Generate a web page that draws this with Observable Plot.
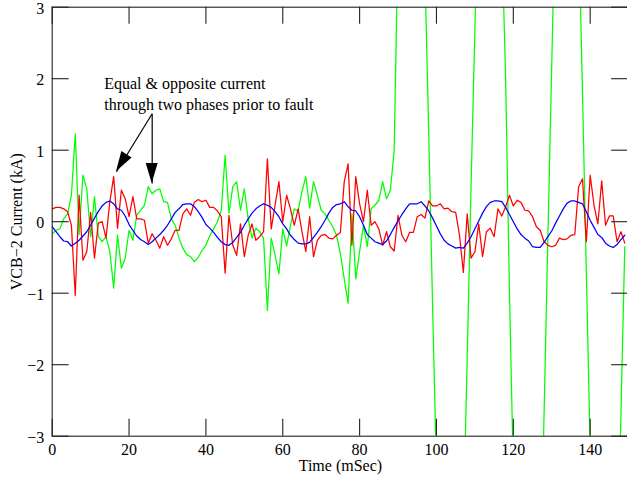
<!DOCTYPE html>
<html>
<head>
<meta charset="utf-8">
<script src="https://cdn.jsdelivr.net/npm/d3@7"></script>
<script src="https://cdn.jsdelivr.net/npm/@observablehq/plot@0.6"></script>
<style>
  html, body { margin: 0; padding: 0; background: #fff; overflow: hidden; }
  svg { display: block; }
  svg, svg text { font-family: "Liberation Serif", "Times New Roman", serif !important; }
</style>
</head>
<body>
<div id="chart"></div>
<script>
// sample times (ms), one sample per millisecond
const time = d3.range(0, 150);

// phase currents (kA)
const blue = [
  -0.07,-0.14,-0.21,-0.27,-0.28,-0.34,-0.30,-0.26,-0.20,-0.14,
  -0.05,0.05,0.14,0.22,0.27,0.29,0.25,0.18,0.16,0.08,
  -0.04,-0.12,-0.20,-0.25,-0.28,-0.32,-0.28,-0.23,-0.18,-0.12,
  -0.05,0.04,0.13,0.18,0.24,0.25,0.25,0.21,0.14,0.06,
  -0.04,-0.09,-0.15,-0.22,-0.28,-0.32,-0.33,-0.29,-0.22,-0.15,
  -0.05,0.04,0.12,0.18,0.22,0.25,0.23,0.20,0.14,0.07,
  -0.03,-0.10,-0.19,-0.25,-0.30,-0.31,-0.31,-0.29,-0.22,-0.15,
  -0.07,0.02,0.12,0.20,0.24,0.25,0.28,0.21,0.16,0.15,
  0.07,-0.05,-0.18,-0.23,-0.28,-0.30,-0.32,-0.27,-0.18,-0.08,
  0.01,0.10,0.18,0.25,0.25,0.25,0.28,0.22,0.15,0.05,
  -0.06,-0.17,-0.26,-0.31,-0.34,-0.37,-0.36,-0.37,-0.30,-0.21,
  -0.10,0.01,0.12,0.21,0.27,0.29,0.29,0.28,0.20,0.10,
  0.00,-0.10,-0.18,-0.23,-0.27,-0.35,-0.36,-0.36,-0.29,-0.21,
  -0.13,-0.02,0.08,0.18,0.26,0.29,0.29,0.27,0.25,0.14,
  0.02,-0.08,-0.18,-0.22,-0.30,-0.34,-0.36,-0.32,-0.25,-0.19
];
const red = [
  0.18,0.20,0.20,0.18,0.14,-0.05,-1.03,0.37,-0.54,-0.42,
  0.13,-0.51,-0.02,0.00,-0.23,0.28,0.63,-0.09,0.44,0.32,
  0.07,0.35,0.04,0.04,0.02,-0.30,-0.17,-0.26,-0.37,-0.21,
  -0.33,-0.24,-0.12,-0.12,0.11,0.18,0.09,0.27,0.31,0.28,
  0.30,0.20,0.20,0.15,0.07,-0.72,0.09,-0.33,-0.47,-0.03,
  -0.49,-0.19,-0.03,-0.26,-0.21,-0.14,0.88,-0.10,0.23,0.56,
  0.00,0.37,0.18,-0.05,0.18,-0.14,-0.42,0.07,-0.49,-0.26,
  -0.19,-0.18,-0.23,-0.24,-0.19,-0.15,0.56,0.81,-0.33,0.63,
  0.25,0.00,0.44,-0.05,0.00,-0.10,-0.33,-0.14,-0.35,-0.41,
  0.09,-0.19,-0.28,-0.15,-0.15,0.07,0.10,0.05,0.29,0.22,
  0.22,0.25,0.18,0.19,0.14,0.13,-0.19,-0.71,0.11,-0.51,
  -0.42,-0.03,-0.49,-0.14,-0.09,-0.21,0.18,0.08,0.21,0.37,
  0.22,0.30,0.27,0.16,0.15,0.07,-0.07,-0.12,-0.28,-0.33,
  -0.35,-0.33,-0.23,-0.25,-0.24,-0.19,-0.18,0.49,0.60,-0.28,
  0.65,0.23,-0.03,0.57,-0.05,0.08,0.08,-0.28,-0.14,-0.30
];
const green = [
  -0.17,-0.12,-0.10,0.04,0.11,0.37,1.23,-0.18,0.65,0.46,
  -0.21,0.35,-0.21,-0.28,-0.21,-0.42,-0.93,-0.19,-0.65,-0.51,
  -0.12,-0.26,0.09,0.16,0.23,0.49,0.39,0.44,0.46,0.28,
  0.27,0.04,-0.05,-0.23,-0.37,-0.46,-0.49,-0.56,-0.50,-0.40,
  -0.33,-0.20,-0.10,0.00,0.16,0.93,0.12,0.49,0.56,0.16,
  0.46,0.04,-0.23,-0.09,-0.14,-0.23,-1.24,-0.23,-0.47,-0.73,
  -0.10,-0.34,-0.05,0.18,0.15,0.42,0.63,0.19,0.56,0.37,
  0.16,0.11,0.02,-0.07,-0.19,-0.45,-0.80,-1.14,0.11,-0.80,
  -0.42,-0.05,-0.35,0.18,0.23,0.30,0.56,0.32,0.44,1.00,
  4.0,6.5,7.8,8.2,7.9,6.9,5.3,3.5,1.2,-1.2,
  -3.5,-5.4,-6.9,-7.8,-8.0,-7.6,-6.6,-4.2,-1.9,0.5,
  2.7,4.8,6.5,7.6,8.0,7.7,6.6,4.0,2.0,-1.0,
  -3.5,-5.6,-7.1,-7.9,-8.1,-7.7,-6.6,-5.0,-2.7,-0.2,
  2.2,4.6,6.5,7.8,8.3,8.0,6.9,4.2,1.8,-0.7,
  -3.2,-5.5,-7.2,-8.1,-8.4,-8.0,-6.8,-5.0,-2.7,-0.35
];

const xTicks = [0, 20, 40, 60, 80, 100, 120, 140];
const yTicks = [-3, -2, -1, 0, 1, 2, 3];
const xLabel = "Time (mSec)";
const yLabel = "VCB\u22122 Current (kA)";

// annotation (data coordinates)
const noteLines = ["Equal & opposite current", "through two phases prior to fault"];
const noteX = [13.53, 13.53];
const noteY = [1.924, 1.627];
const arrowFromX = [26.02, 26.02];
const arrowFromY = [1.509, 1.509];
const arrowToX = [16.73, 26.02];
const arrowToY = [0.698, 0.534];

const toRows = vals => time.map((t, i) => ({t, v: vals[i]}));
const notes = noteLines.map((s, i) => ({s, x: noteX[i], y: noteY[i]}));
const arrows = arrowToX.map((x2, i) => ({x1: arrowFromX[i], y1: arrowFromY[i], x2, y2: arrowToY[i]}));

const W = 627, H = 481;
const mL = 51.7, mR = -1.1, mT = 6.7, mB = 45.3;
const innerW = W - mL - mR, innerH = H - mT - mB;
const tickLen = 17;
const fmt = d => d < 0 ? "\u2212" + Math.abs(d) : String(d);
const font = "'Liberation Serif', 'Times New Roman', serif";

const chart = Plot.plot({
  width: W,
  height: H,
  marginLeft: mL,
  marginRight: mR,
  marginTop: mT,
  marginBottom: mB,
  style: {fontFamily: font, fontSize: "16px", color: "#000", background: "#fff"},
  x: {domain: [0, 150], label: null},
  y: {domain: [-3, 3], label: null},
  marks: [
    Plot.line(toRows(green), {x: "t", y: "v", stroke: "#00ff00", strokeWidth: 1.25, clip: true}),
    Plot.line(toRows(red), {x: "t", y: "v", stroke: "#ff0000", strokeWidth: 1.25, clip: true}),
    Plot.line(toRows(blue), {x: "t", y: "v", stroke: "#0000ff", strokeWidth: 1.25, clip: true}),
    Plot.ruleX(xTicks, {x: d => d, insetTop: innerH - tickLen, stroke: "#222", strokeWidth: 1.1}),
    Plot.ruleX(xTicks, {x: d => d, insetBottom: innerH - tickLen, stroke: "#222", strokeWidth: 1.1}),
    Plot.ruleY(yTicks, {y: d => d, insetRight: innerW - tickLen, stroke: "#222", strokeWidth: 1.1}),
    Plot.ruleY(yTicks, {y: d => d, insetLeft: innerW - tickLen, stroke: "#222", strokeWidth: 1.1}),
    Plot.frame({stroke: "#222", strokeWidth: 1.1}),
    Plot.axisX(xTicks, {tickSize: 0, tickPadding: 7, tickFormat: fmt, label: null, fontSize: 16}),
    Plot.axisY(yTicks, {tickSize: 0, tickPadding: 8, tickFormat: fmt, label: null, fontSize: 16, dy: 1.5}),
    Plot.text([xLabel], {frameAnchor: "bottom", dy: 30, lineAnchor: "middle", textAnchor: "middle", text: d => d, fontSize: 16}),
    Plot.text([yLabel], {frameAnchor: "left", dx: -35, rotate: -90, lineAnchor: "middle", textAnchor: "middle", text: d => d, fontSize: 16}),
    Plot.text(notes, {x: "x", y: "y", text: "s", textAnchor: "start", lineAnchor: "middle", fontSize: 16}),
    Plot.link(arrows, {x1: "x1", y1: "y1", x2: "x2", y2: "y2", stroke: "#000", strokeWidth: 1.2})
  ]
});

// filled arrowheads positioned through Plot's own scales
const sx = chart.scale("x"), sy = chart.scale("y");
const g = d3.select(chart).append("g").attr("fill", "#000");
for (const a of arrows) {
  const px1 = sx.apply(a.x1), py1 = sy.apply(a.y1);
  const px2 = sx.apply(a.x2), py2 = sy.apply(a.y2);
  const dx = px2 - px1, dy = py2 - py1, len = Math.hypot(dx, dy);
  const ux = dx / len, uy = dy / len;
  const hl = 20, hw = 6;
  const bx = px2 - ux * hl, by = py2 - uy * hl;
  g.append("polygon").attr("points", [
    [px2, py2], [bx - uy * hw, by + ux * hw], [bx + uy * hw, by - ux * hw]
  ].map(p => p.join(",")).join(" "));
}

document.getElementById("chart").appendChild(chart);
</script>
</body>
</html>
